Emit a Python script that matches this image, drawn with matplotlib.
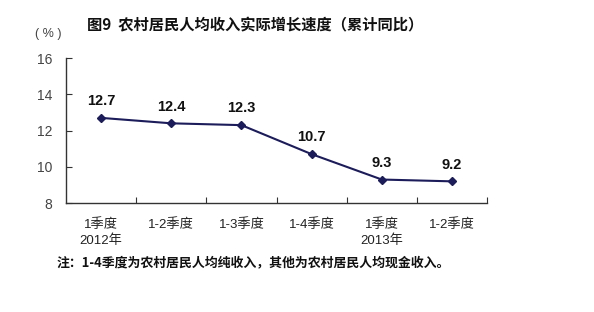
import matplotlib
matplotlib.use("Agg")
import matplotlib.pyplot as plt

plt.rcParams['font.family'] = ['Noto Sans CJK SC', 'DejaVu Sans']

categories = ["1季度\n2012年", "1-2季度", "1-3季度", "1-4季度", "1季度\n2013年", "1-2季度"]
values = [12.7, 12.4, 12.3, 10.7, 9.3, 9.2]
value_labels = ["12.7", "12.4", "12.3", "10.7", "9.3", "9.2"]
yticks = [8, 10, 12, 14, 16]

fig = plt.figure(figsize=(5.94, 3.12), dpi=100)
ax = fig.add_axes([0.111, 0.349, 0.709, 0.465])

arial_cjk = ["Liberation Sans", "Noto Sans CJK SC"]

x = list(range(len(values)))
line_color = "#1c1c5a"
ax.plot(x, values, color=line_color, lw=1.5, marker="D", ms=4.5, mfc=line_color, mec=line_color)
for xi, v, lab in zip(x, values, value_labels):
    ax.annotate(lab, (xi, v), xytext=(0, 7), textcoords="offset points",
                ha="center", va="bottom", fontsize=10.5, fontweight="bold",
                color="#111111", family=["Liberation Sans"])

ax.set_xlim(-0.5, len(values) - 0.5)
ax.set_ylim(8, 16)
ax.set_yticks(yticks)
ax.set_yticklabels([str(t) for t in yticks], fontsize=10, color="#444444", family=["Liberation Sans"])
ax.set_xticks([i + 0.5 for i in range(len(values))])
ax.set_xticklabels([])
ax.set_xticks(x, minor=True)
ax.set_xticklabels(categories, minor=True, fontsize=9.5, color="#222222", linespacing=1.35,
                   family=arial_cjk)
ax.tick_params(axis="x", which="minor", length=0, pad=11)
ax.tick_params(axis="x", which="major", direction="in", length=4, color="#333333")
ax.tick_params(axis="y", direction="in", length=4, color="#333333", pad=10)
for s in ["top", "right"]:
    ax.spines[s].set_visible(False)
for s in ["left", "bottom"]:
    ax.spines[s].set_color("#333333")
    ax.spines[s].set_linewidth(1.0)

fig.text(0.43, 0.92, "图9  农村居民人均收入实际增长速度（累计同比）", ha="center", va="center",
         fontsize=11, fontweight="bold", color="#111111")
fig.text(0.082, 0.89, "( % )", ha="center", va="center", fontsize=9, color="#444444",
         family=["Liberation Sans"])
fig.text(0.096, 0.16, "注：1-4季度为农村居民人均纯收入，其他为农村居民人均现金收入。", ha="left",
         va="center", fontsize=9.3, fontweight="bold", color="#111111")

fig.savefig("out.png", dpi=100, facecolor="white")
